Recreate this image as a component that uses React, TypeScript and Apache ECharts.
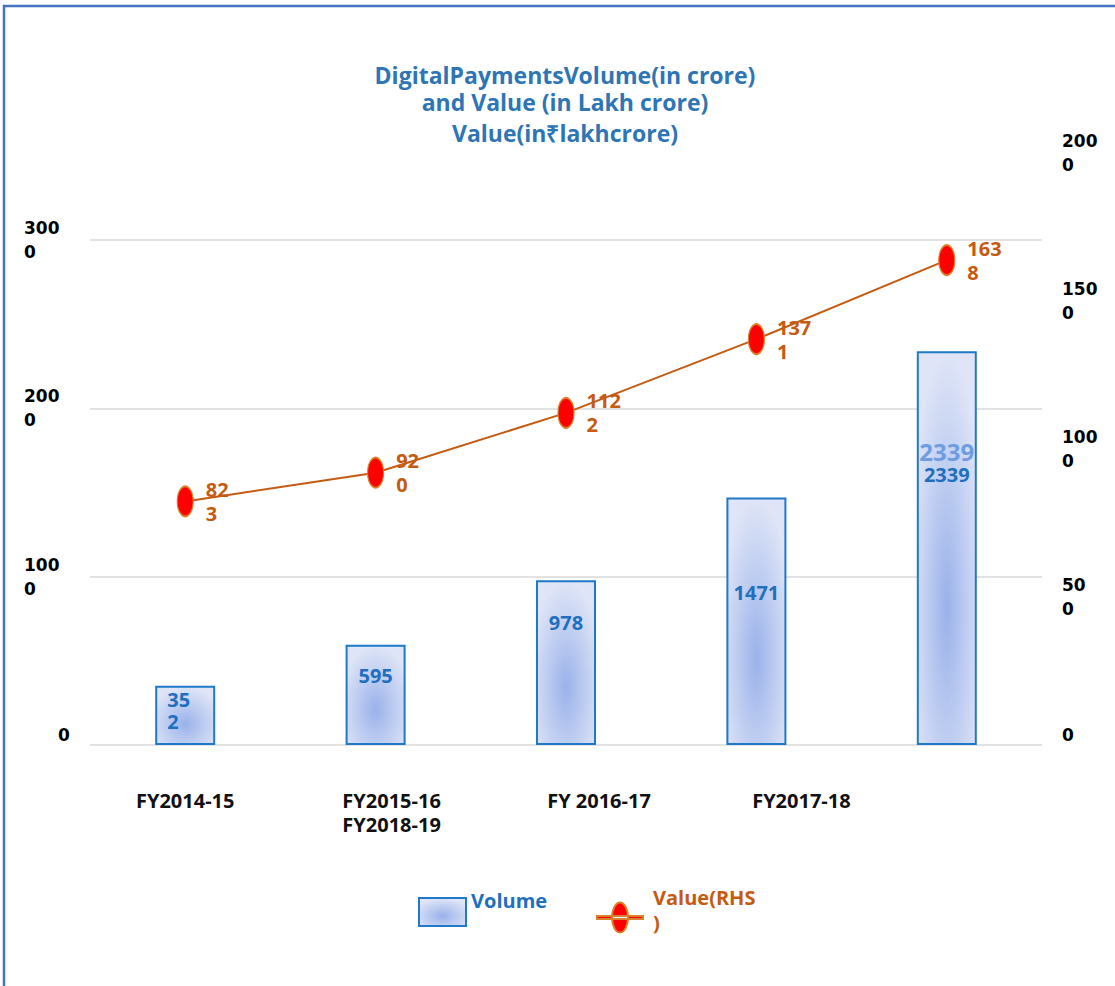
import React, { useEffect, useRef } from 'react';
import * as echarts from 'echarts';

const categories = ['FY2014-15', 'FY2015-16\nFY2018-19', 'FY 2016-17', 'FY2017-18', ''];
const volume = [352, 595, 978, 1471, 2339];
const valueRHS = [823, 920, 1122, 1371, 1638];
const leftTicks = { min: 0, max: 3000, interval: 1000 };
const rightTicks = { min: 0, max: 2000, interval: 500 };
const titleLines = ['DigitalPaymentsVolume(in crore)', 'and Value (in Lakh crore)'];
const subTitle = 'Value(in₹lakhcrore)';

// layout-only helpers (not data)
const BAR_LABEL_DY = [3, 20, 31, 84, 88];
const XLABEL_PAD = [0, 32, 66, 90, 0];

const FONT = '"Open Sans", sans-serif';
const BLUE = '#1f6fbf';
const ORANGE = '#c55a11';

const splitNum = (v: number) => {
  const s = String(v);
  return s.length > 1 ? s.slice(0, -1) + '\n' + s.slice(-1) : s;
};

export default function App() {
  const ref = useRef<HTMLDivElement>(null);
  useEffect(() => {
    if (!ref.current) return;
    const chart = echarts.init(ref.current, undefined, { renderer: 'svg' });
    const barFill = new echarts.graphic.RadialGradient(0.5, 0.65, 0.65, [
      { offset: 0, color: '#9ab2ea' },
      { offset: 1, color: '#dfe5f7' },
    ]);
    const axisRich = (padLeft: number) => ({
      n: { fontFamily: '"DejaVu Sans", sans-serif', fontWeight: 'bold', fontSize: 17, lineHeight: 24, color: '#000' },
      z: { fontFamily: '"DejaVu Sans", sans-serif', fontWeight: 'bold', fontSize: 17, lineHeight: 24, color: '#000', padding: [0, 0, 20, padLeft] },
    });
    const axisFmt = (v: number) =>
      v === 0 ? '{z|0}' : splitNum(v).split('\n').map((p) => `{n|${p}}`).join('\n');

    const xRich: any = {};
    XLABEL_PAD.forEach((p, i) => {
      xRich['c' + i] = { fontFamily: FONT, fontWeight: 'bold', fontSize: 20, lineHeight: 24, color: '#111', padding: [0, 0, 0, p] };
    });

    const option: any = {
      animation: false,
      backgroundColor: '#fff',
      title: {
        text: titleLines.join('\n'),
        subtext: subTitle,
        left: 565,
        textAlign: 'center',
        top: 61,
        padding: 0,
        itemGap: 4,
        textStyle: { fontFamily: FONT, fontWeight: 'bold', fontSize: 23, lineHeight: 27, color: '#2e75b6' },
        subtextStyle: { fontFamily: FONT, fontWeight: 'bold', fontSize: 23, lineHeight: 27, color: '#2e75b6' },
      },
      legend: [
        {
          data: [{ name: 'Volume', icon: 'rect' }],
          left: 418,
          top: 890,
          padding: 0,
          itemWidth: 47,
          itemHeight: 28,
          selectedMode: false,
          formatter: (n: string) => `{a|${n}}`,
          textStyle: {
            rich: { a: { fontFamily: FONT, fontWeight: 'bold', fontSize: 20, lineHeight: 24, color: BLUE, padding: [0, 0, 24, 0] } },
          },
        },
        {
          data: [
            {
              name: 'Value(RHS)',
              icon: 'path://M0,13.5 L46,13.5 L46,16.5 L0,16.5 Z M15,15 A8,15 0 1,0 31,15 A8,15 0 1,0 15,15 Z',
            },
          ],
          left: 596,
          top: 887,
          padding: 0,
          itemWidth: 46,
          itemHeight: 30,
          selectedMode: false,
          formatter: () => '{a|Value(RHS}\n{a|)}\n{e| }',
          textStyle: {
            rich: {
              a: { fontFamily: FONT, fontWeight: 'bold', fontSize: 20, lineHeight: 25, color: ORANGE, padding: [0, 0, 0, 5] },
              e: { fontSize: 10, lineHeight: 16 },
            },
          },
        },
      ],
      grid: [
        { left: 90, right: 73, top: 240, bottom: 241 },
        { left: 90, right: 73, top: 153, bottom: 241 },
      ],
      xAxis: [
        {
          type: 'category',
          gridIndex: 0,
          data: categories,
          axisLine: { show: false },
          axisTick: { show: false },
          axisLabel: {
            margin: 43,
            interval: 0,
            formatter: (v: string, i: number) =>
              v.split('\n').map((p) => `{c${i}|${p}}`).join('\n'),
            rich: xRich,
          },
        },
        { type: 'category', gridIndex: 1, data: categories, show: false },
      ],
      yAxis: [
        {
          type: 'value',
          gridIndex: 0,
          ...leftTicks,
          axisLine: { show: false },
          axisTick: { show: false },
          splitLine: { lineStyle: { color: '#d9d9d9', width: 1.5 } },
          axisLabel: { align: 'left', margin: 66, formatter: axisFmt, rich: axisRich(34) },
        },
        {
          type: 'value',
          gridIndex: 1,
          position: 'right',
          ...rightTicks,
          axisLine: { show: false },
          axisTick: { show: false },
          splitLine: { show: false },
          axisLabel: { align: 'left', margin: 20, formatter: axisFmt, rich: axisRich(0) },
        },
      ],
      series: [
        {
          name: 'Volume',
          type: 'bar',
          xAxisIndex: 0,
          yAxisIndex: 0,
          barWidth: 60,
          itemStyle: { color: barFill, borderColor: '#1f78c8', borderWidth: 2 },
          data: volume.map((v, i) => ({
            value: v,
            label: {
              show: true,
              position: i === 0 ? [12, BAR_LABEL_DY[i]] : ['50%', BAR_LABEL_DY[i]],
              align: i === 0 ? 'left' : 'center',
              verticalAlign: 'top',
              formatter:
                i === 0
                  ? splitNum(v)
                  : i === volume.length - 1
                  ? `{l|${v}}\n{d|${v}}`
                  : String(v),
              fontFamily: FONT,
              fontWeight: 'bold',
              fontSize: 20,
              lineHeight: 22,
              color: BLUE,
              rich: {
                l: { fontFamily: FONT, fontWeight: 'bold', fontSize: 24, lineHeight: 24, color: '#6d9de0' },
                d: { fontFamily: FONT, fontWeight: 'bold', fontSize: 20, lineHeight: 22, color: BLUE },
              },
            },
          })),
        },
        {
          name: 'Value(RHS)',
          type: 'line',
          xAxisIndex: 1,
          yAxisIndex: 1,
          data: valueRHS,
          symbol: 'circle',
          symbolSize: [16, 30],
          itemStyle: { color: '#ff0000', borderColor: '#d9822b', borderWidth: 1.5 },
          lineStyle: { color: ORANGE, width: 2 },
          label: {
            show: true,
            position: 'right',
            distance: 12,
            formatter: (p: any) => splitNum(p.value),
            fontFamily: FONT,
            fontWeight: 'bold',
            fontSize: 20,
            lineHeight: 24,
            color: ORANGE,
          },
        },
      ],
      graphic: [
        {
          type: 'polyline',
          shape: { points: [[4, 986], [4, 6], [1115, 6]] },
          style: { stroke: '#4472c4', lineWidth: 2.5, fill: 'none' },
          silent: true,
        },
      ],
    };
    chart.setOption(option);
    return () => chart.dispose();
  }, []);
  return (
    <div
      ref={ref}
      style={{ position: 'fixed', left: 0, top: 0, width: 1115, height: 986 }}
    />
  );
}
